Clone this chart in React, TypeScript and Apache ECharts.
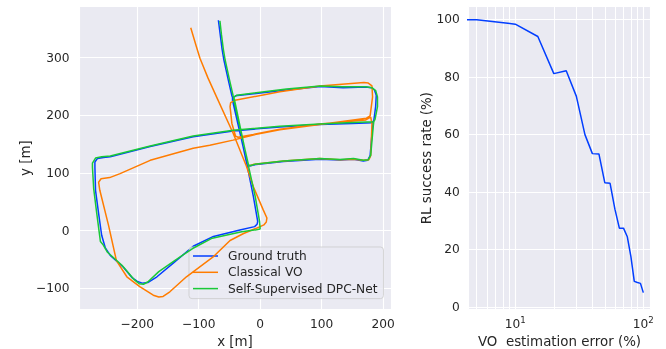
import React, { useEffect, useRef } from 'react';
import * as echarts from 'echarts';

// Trajectories (x [m], y [m]), in drawing order
const groundTruth: [number, number][] = [
  [-68, 365], [-65, 340], [-62, 315], [-59, 296], [-52, 262], [-46, 234], [-44, 228],
  [-33, 172], [-21, 112], [-11, 59], [-4, 16], [-5, 11], [-9, 7], [-33, 1], [-76, -10],
  [-109, -27], [-141, -56], [-168, -80], [-183, -90], [-192, -91], [-200, -88], [-208, -82],
  [-223, -63], [-244, -43], [-252, -30], [-258, -8], [-263, 30], [-268, 70], [-269, 110],
  [-269, 119], [-265, 125], [-255, 127], [-244, 128], [-179, 146], [-109, 163], [-44, 173],
  [32, 180], [97, 184], [150, 186], [182, 187], [185, 191], [188, 215], [189, 235],
  [186, 244], [181, 248], [172, 249], [135, 248], [98, 250], [43, 244], [-40, 234],
  [-45, 230], [-45, 226], [-33, 170], [-21, 114], [-17, 112], [-11, 114], [38, 120],
  [97, 124], [130, 122.5], [152, 124], [168, 121], [175, 122], [179, 130], [183, 180], [184, 188],
];

const classicalVO: [number, number][] = [
  [-113, 352], [-104, 320], [-98, 299], [-85, 265], [-71, 232], [-44, 169], [-22, 111],
  [-11, 76], [5, 36], [11, 22], [10, 15], [6, 10], [0, 7], [-27, -5], [-49, -17],
  [-76, -45], [-120, -80], [-147, -106], [-158, -114], [-165, -115], [-174, -112],
  [-196, -97], [-217, -80], [-234, -52], [-247, 10], [-261, 70], [-263, 84], [-259, 90],
  [-245, 92], [-228, 99], [-179, 122], [-109, 143], [-82, 148], [-44, 157], [-11, 166],
  [32, 175], [97, 184], [173, 195], [179, 199], [183, 232], [182, 251], [176, 256],
  [169, 257], [97, 251], [32, 241], [-41, 226], [-48, 222], [-49, 215], [-46, 186],
  [-40, 164], [-36, 162], [-11, 167], [32, 176], [97, 185], [172, 192], [180, 197],
  [182, 185], [180, 130], [177, 123], [168, 122], [152, 124], [130, 123], [97, 125],
  [38, 121], [-11, 115], [-19, 112],
];

const dpcNet: [number, number][] = [
  [-65.5, 364], [-63, 340], [-60, 315], [-57, 296], [-50, 262], [-44, 234], [-42, 228],
  [-31, 172], [-19, 112], [-8, 59], [-1, 16], [0, 3], [-6, 1.5], [-30, -2], [-78, -13],
  [-110, -31], [-138, -51], [-165, -71], [-183, -89], [-190, -93], [-197, -92], [-206, -84],
  [-225, -60], [-249, -37], [-256, -24], [-260, -19], [-266, 30], [-271, 73], [-273, 110],
  [-273, 117], [-268, 126], [-258, 128], [-244, 129.5], [-179, 147], [-109, 164], [-44, 174],
  [32, 181], [97, 185], [150, 187.5], [185, 189], [187, 193], [191, 215], [191, 232],
  [188, 243], [182, 248], [172, 249.5], [135, 249.5], [98, 251], [43, 245.5], [-38, 235],
  [-43, 231], [-43, 227], [-31, 170], [-19, 114], [-15, 113], [-9, 115], [38, 121],
  [97, 125], [130, 123.5], [152, 125], [168, 122], [176, 123], [180, 131], [184, 180], [185, 189],
];

// RL success rate vs VO estimation error
const voErrorPct = [1, 5, 10, 15, 20, 25, 30, 35, 40, 45, 50, 55, 60, 65, 70, 75, 80, 85, 90, 95, 100];
const rlSuccessPct = [100, 99.8, 98.3, 94, 81.1, 82.1, 73.2, 59.9, 53.3, 53.2, 43.2, 43, 34, 27.4, 27.4, 24.4, 17.5, 8.9, 8.5, 8.2, 5];
const minorErrorTicks = [5, 6, 7, 8, 9, 20, 30, 40, 50, 60, 70, 80, 90];

const seriesNames = ['Ground truth', 'Classical VO', 'Self-Supervised DPC-Net'];
const seriesColors = ['#023EFF', '#FF7C00', '#1AC938'];

const TEXT = '#262626';
const FONT = 'DejaVu Sans';
const BG = '#EAEAF2';

export default function App() {
  const ref = useRef<HTMLDivElement>(null);
  useEffect(() => {
    const chart = echarts.init(ref.current!, undefined, { renderer: 'svg' });
    const minus = (v: number) => (v < 0 ? '\u2212' + Math.abs(v) : String(v));
    const stepFmt = (step: number) => (v: number) =>
      Math.abs(v / step - Math.round(v / step)) < 1e-6 ? minus(Math.round(v)) : '';
    const label = (fmt: any, margin: number) => ({
      formatter: fmt, color: TEXT, fontSize: 12.2, fontFamily: FONT, margin,
      showMinLabel: false, showMaxLabel: false,
    });
    const nameStyle = { color: TEXT, fontSize: 13.4, fontFamily: FONT };
    const split = { show: true, lineStyle: { color: '#ffffff', width: 1.1 } };
    const noLine = { show: false };
    const gridBase = { show: true, backgroundColor: BG, borderWidth: 0, outerBoundsMode: 'none', containLabel: false };

    const trajData = [groundTruth, classicalVO, dpcNet];

    chart.setOption({
      animation: false,
      textStyle: { fontFamily: FONT },
      grid: [
        { ...gridBase, left: 79, top: 6.5, width: 312, height: 303.2 },
        { ...gridBase, left: 468.3, top: 6.5, width: 182.4, height: 303.2 },
      ],
      xAxis: [
        {
          type: 'value', gridIndex: 0, min: -294.9, max: 213,
          axisLine: noLine, axisTick: noLine, splitLine: split,
          axisLabel: label(stepFmt(100), 8),
          name: 'x [m]', nameLocation: 'middle', nameGap: 24, nameTextStyle: nameStyle,
        },
        {
          type: 'log', logBase: 10, gridIndex: 1, min: 4.296, max: 114.2,
          axisLine: noLine, axisTick: noLine, splitLine: split,
          axisLabel: {
            color: TEXT, fontFamily: FONT, margin: 6, showMinLabel: false, showMaxLabel: false,
            formatter: (v: number) => {
              const l = Math.log10(v);
              const e = Math.round(l);
              if (Math.abs(l - e) > 1e-6) return '';
              return `{b|10}{s|${e}}`;
            },
            rich: {
              b: { fontSize: 12.2, color: TEXT, fontFamily: FONT },
              s: { fontSize: 8.6, color: TEXT, fontFamily: FONT, padding: [0, 0, 8, 0], verticalAlign: 'bottom' },
            },
          },
          name: 'VO  estimation error (%)', nameLocation: 'middle', nameGap: 24, nameTextStyle: nameStyle,
        },
      ],
      yAxis: [
        {
          type: 'value', gridIndex: 0, min: -137.1, max: 388.8,
          axisLine: noLine, axisTick: noLine, splitLine: split,
          axisLabel: label(stepFmt(100), 9.5),
          name: 'y [m]', nameLocation: 'middle', nameGap: 46, nameTextStyle: nameStyle,
        },
        {
          type: 'value', gridIndex: 1, min: -0.94, max: 104.43,
          axisLine: noLine, axisTick: noLine, splitLine: split,
          axisLabel: label(stepFmt(20), 8.5),
          name: 'RL success rate (%)', nameLocation: 'middle', nameGap: 35, nameTextStyle: nameStyle,
        },
      ],
      legend: {
        data: seriesNames,
        orient: 'vertical', left: 189, top: 247,
        icon: 'path://M0,0L25,0L25,1.5L0,1.5Z',
        itemWidth: 25, itemHeight: 14, itemGap: 4.3,
        padding: [3, 6, 4, 4],
        backgroundColor: 'rgba(234,234,242,0.8)',
        borderColor: 'rgba(204,204,204,0.8)', borderWidth: 1, borderRadius: 3,
        textStyle: { color: TEXT, fontSize: 12.2, fontFamily: FONT, padding: [0, 0, 0, 5] },
        selectedMode: false,
      },
      series: [
        ...seriesNames.map((name, i) => ({
          type: 'line', name, xAxisIndex: 0, yAxisIndex: 0,
          data: trajData[i], symbol: 'none', showSymbol: false,
          lineStyle: { color: seriesColors[i], width: 1.5 },
          itemStyle: { color: seriesColors[i] },
          z: 3 + i, silent: true,
        })),
        {
          type: 'line', name: 'minor', xAxisIndex: 1, yAxisIndex: 1,
          data: [], symbol: 'none', silent: true, z: 1,
          markLine: {
            z: 1, silent: true, symbol: ['none', 'none'], label: { show: false },
            lineStyle: { color: '#ffffff', width: 1, type: 'solid' },
            emphasis: { disabled: true },
            data: minorErrorTicks.map((v) => ({ xAxis: v })),
          },
        },
        {
          type: 'line', name: 'RL', xAxisIndex: 1, yAxisIndex: 1,
          data: voErrorPct.map((x, i) => [x, rlSuccessPct[i]]),
          symbol: 'none', showSymbol: false, silent: true, z: 6,
          lineStyle: { color: '#023EFF', width: 1.5 },
        },
      ],
    });
    return () => chart.dispose();
  }, []);
  return <div ref={ref} style={{ position: 'fixed', left: 0, top: 0, width: 666, height: 349 }} />;
}
